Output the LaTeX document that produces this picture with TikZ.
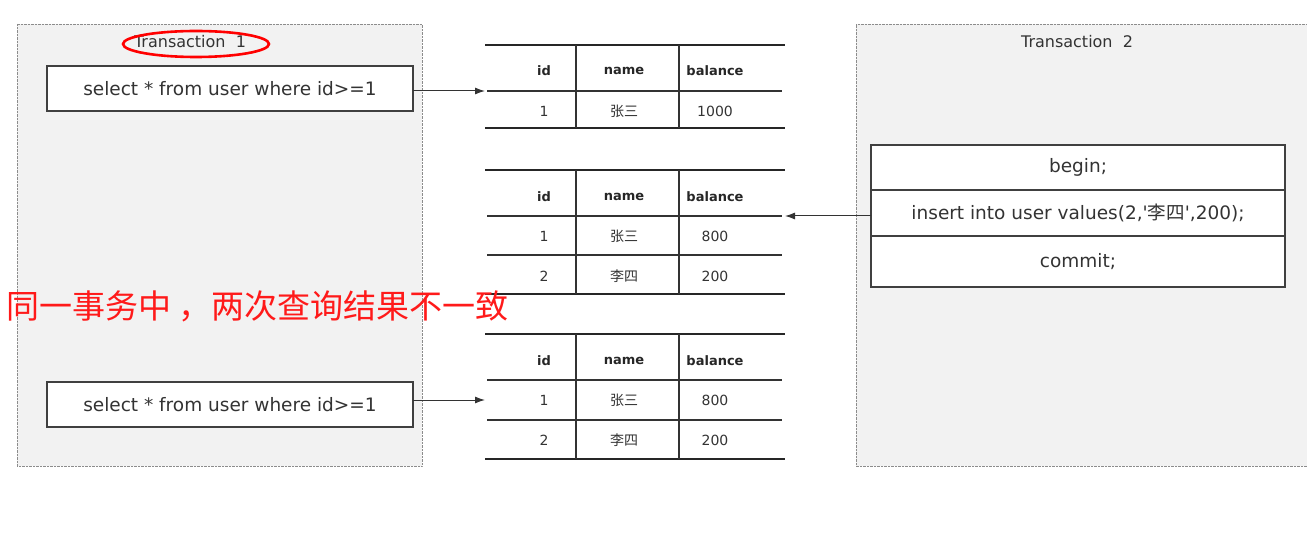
\documentclass[tikz,border=0pt]{standalone}
\usepackage{fontspec}
\setmainfont{DejaVu Sans}
\newfontfamily\cjk{Noto Sans CJK SC}
\usetikzlibrary{arrows.meta}
\definecolor{txtgray}{HTML}{333333}
\definecolor{panelgray}{HTML}{F2F2F2}
\definecolor{marker}{HTML}{FF1A1A}

\begin{document}
\begin{tikzpicture}[x=1pt,y=-1pt,
	panel/.style={fill=panelgray, inner sep=0pt, outer sep=0pt},
	edge/.style={draw=black!45, densely dotted},
	stmt/.style={draw=black!75, line width=1.2pt, fill=white, inner sep=0pt, outer sep=0pt,
		minimum width=366pt, minimum height=45pt, text=txtgray,
		font=\fontsize{18.5}{21}\selectfont},
	title/.style={text=txtgray, font=\fontsize{16}{18}\selectfont},
	head/.style={text=black!85, font=\fontsize{13}{15}\selectfont\bfseries},
	cell/.style={text=txtgray, font=\fontsize{14}{16}\selectfont},
	rule/.style={line width=2.4pt, black!85},
	grid/.style={line width=1.2pt, black!80},
	arr/.style={-{Latex[length=10pt,width=7pt]}, line width=1pt, black!80}]
	\useasboundingbox (0,0) rectangle (1307,537);
	
	% the two transactions
	\node[panel, anchor=north west, minimum width=405pt, minimum height=442pt] (trx1) at (17,24) {};
	\node[panel, anchor=north west, minimum width=460pt, minimum height=442pt] (trx2) at (856,24) {};
	\draw[edge] (trx1.north west) rectangle (trx1.south east);
	\draw[edge] (trx2.north east) -- (trx2.north west) -- (trx2.south west) -- (trx2.south east);
	\node[title] (trx1-title) at (190,42) {Transaction\ \ 1};
	\node[title] (trx2-title) at (1077,42) {Transaction\ \ 2};
	\draw[red, line width=2.6pt] (196,44) ellipse [x radius=73pt, y radius=13pt];
	
	\node[stmt] (sel1) at (230,88.5) {select * from user where id>=1};
	\node[stmt] (sel2) at (230,404.5) {select * from user where id>=1};
	
	\node[stmt, minimum width=414pt, minimum height=45pt] (begin) at (1078,167.5) {begin;};
	\node[stmt, minimum width=414pt, minimum height=46pt, anchor=north] (insert) at (begin.south)
	{insert into user values(2,\textquotesingle{\cjk 李四}\textquotesingle,200);};
	\node[stmt, minimum width=414pt, minimum height=51pt, anchor=north] (commit) at (insert.south) {commit;};
	
	% first read
	\begin{scope}[shift={(485,45)}]
		\draw[rule] (0,0) -- (300,0) (0,83) -- (300,83);
		\draw[grid] (2,46) -- (297,46);
		\draw[grid] (91,0) -- (91,83) (194,0) -- (194,83);
		\node[head] (t1-id) at (59,26) {id};
		\node[head] (t1-name) at (139,26) {name};
		\node[head] (t1-bal) at (230,26) {balance};
		\node[cell] (t1-a1) at (59,66) {1};
		\node[cell] (t1-a2) at (139,66) {\cjk 张三};
		\node[cell] (t1-a3) at (230,66) {1000};
		\coordinate (t1-in) at (0,46);
	\end{scope}
	
	% after insert
	\begin{scope}[shift={(485,170)}]
		\draw[rule] (0,0) -- (300,0) (0,124) -- (300,124);
		\draw[grid] (2,46) -- (297,46) (2,85) -- (297,85);
		\draw[grid] (91,0) -- (91,124) (194,0) -- (194,124);
		\node[head] (t2-id) at (59,27) {id};
		\node[head] (t2-name) at (139,27) {name};
		\node[head] (t2-bal) at (230,27) {balance};
		\node[cell] (t2-a1) at (59,66) {1};
		\node[cell] (t2-a2) at (139,66) {\cjk 张三};
		\node[cell] (t2-a3) at (230,66) {800};
		\node[cell] (t2-b1) at (59,106) {2};
		\node[cell] (t2-b2) at (139,106) {\cjk 李四};
		\node[cell] (t2-b3) at (230,106) {200};
		\coordinate (t2-in) at (300,46);
	\end{scope}
	
	% second read
	\begin{scope}[shift={(485,334)}]
		\draw[rule] (0,0) -- (300,0) (0,125) -- (300,125);
		\draw[grid] (2,46) -- (297,46) (2,86) -- (297,86);
		\draw[grid] (91,0) -- (91,125) (194,0) -- (194,125);
		\node[head] (t3-id) at (59,27) {id};
		\node[head] (t3-name) at (139,27) {name};
		\node[head] (t3-bal) at (230,27) {balance};
		\node[cell] (t3-a1) at (59,66) {1};
		\node[cell] (t3-a2) at (139,66) {\cjk 张三};
		\node[cell] (t3-a3) at (230,66) {800};
		\node[cell] (t3-b1) at (59,106) {2};
		\node[cell] (t3-b2) at (139,106) {\cjk 李四};
		\node[cell] (t3-b3) at (230,106) {200};
		\coordinate (t3-in) at (0,66);
	\end{scope}
	
	\draw[arr] (sel1.east |- t1-in) -- (t1-in);
	\draw[arr] (insert.west |- t2-in) -- (t2-in);
	\draw[arr] (sel2.east |- t3-in) -- (t3-in);
	
	\node[anchor=west, inner sep=0pt, text=marker, font=\cjk\fontsize{33}{36}\selectfont] (note) at (6,306)
	{同一事务中\ ，两次查询结果不一致};
\end{tikzpicture}
\end{document}
